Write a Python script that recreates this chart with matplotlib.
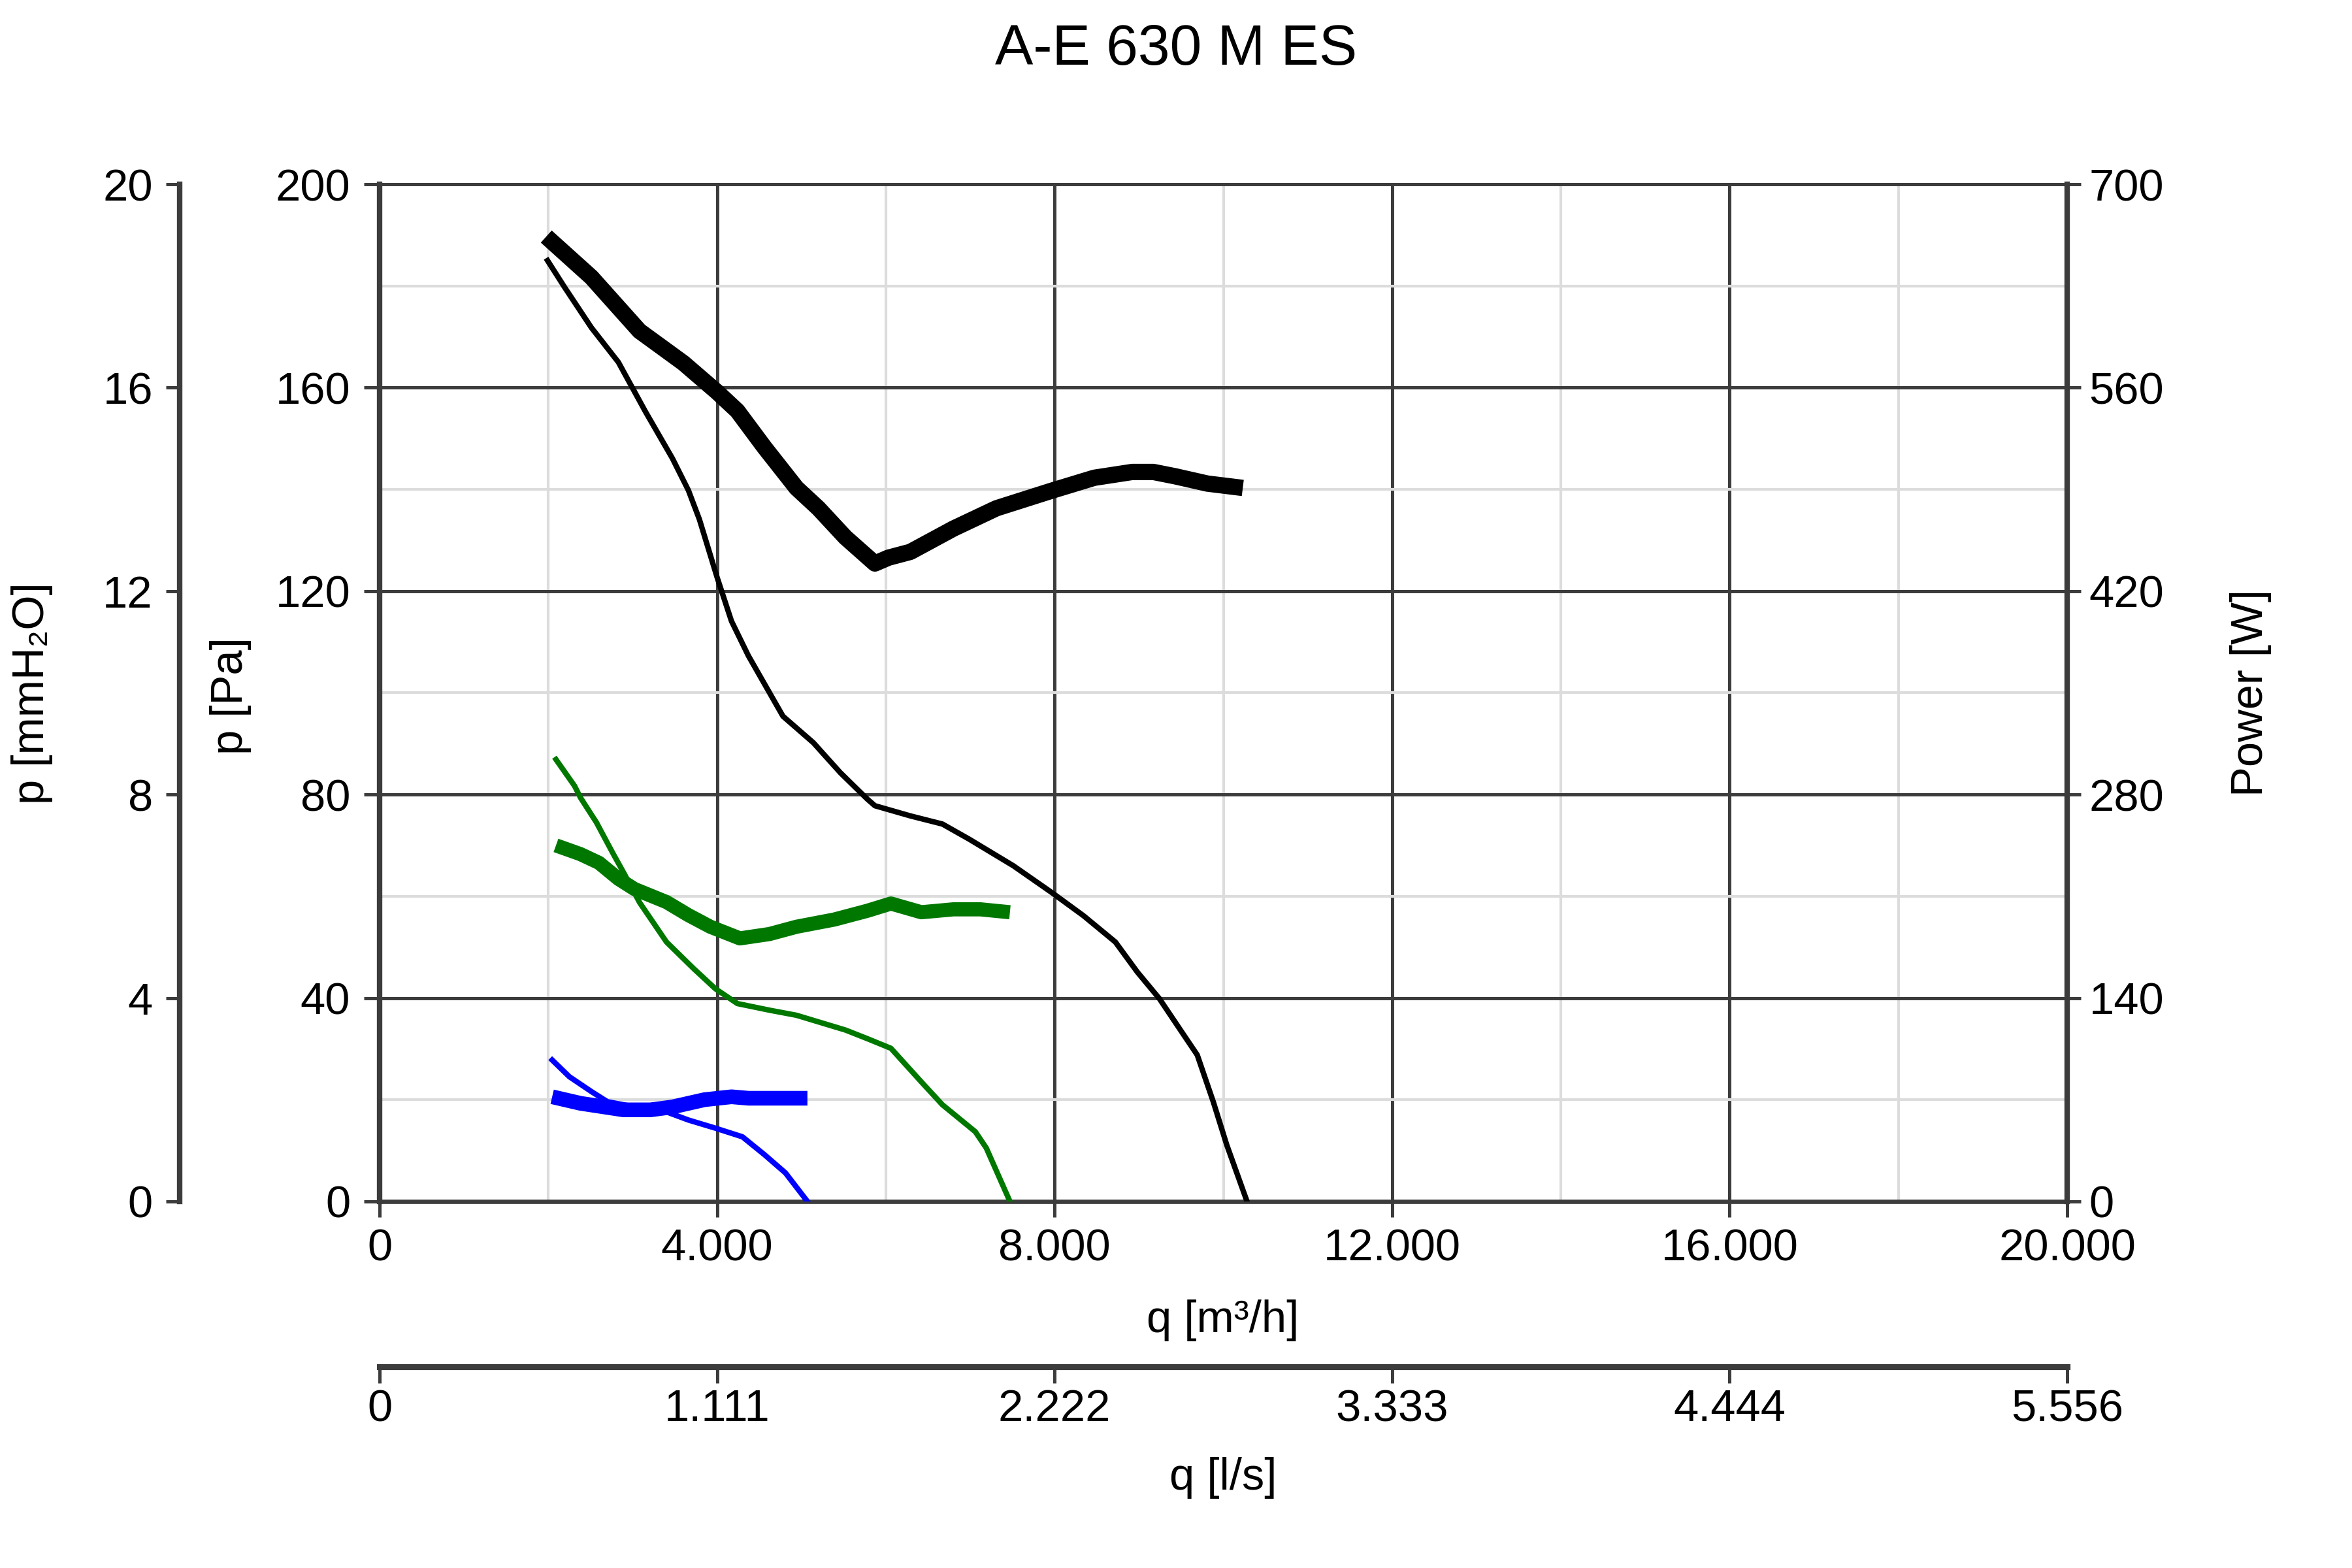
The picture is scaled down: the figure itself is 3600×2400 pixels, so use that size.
import matplotlib.pyplot as plt
from matplotlib.ticker import FuncFormatter, MultipleLocator

plt.rcParams['font.family'] = ['Liberation Sans', 'DejaVu Sans']

title = 'A-E 630 M ES'

# pressure curves, q [m3/h] -> p [Pa]
q_p_black = [1990, 2190, 2510, 2830, 3150, 3470, 3660, 3790, 4000, 4170, 4370,
             4780, 5140, 5460, 5780, 5870, 6290, 6670, 6990, 7310, 7510, 7960,
             8340, 8720, 8980, 9240, 9560, 9690, 9880, 10040, 10280]
p_black = [185.0, 179.8, 171.8, 165.0, 155.3, 146.1, 139.8, 134.1, 122.7, 114.1, 107.3,
           95.4, 90.2, 84.3, 79.1, 77.8, 75.8, 74.2, 71.2, 68.0, 66.0, 60.8,
           56.2, 51.0, 45.1, 39.9, 32.0, 28.8, 19.6, 11.1, 0.0]

q_p_green = [2090, 2310, 2380, 2570, 2760, 2890, 3080, 3400, 3720, 3980, 4240,
             4620, 4940, 5200, 5520, 5780, 6060, 6420, 6670, 7060, 7190, 7470]
p_green = [86.9, 81.7, 79.4, 74.5, 68.6, 64.7, 58.8, 51.0, 45.8, 41.8, 38.9,
           37.6, 36.6, 35.3, 33.7, 32.0, 30.1, 23.5, 19.0, 13.7, 10.5, 0.0]

q_p_blue = [2045, 2250, 2510, 2700, 3020, 3400, 3660, 3980, 4300, 4560, 4810, 5070]
p_blue = [27.8, 24.5, 21.6, 19.6, 18.6, 17.6, 16.0, 14.4, 12.7, 9.2, 5.6, 0.0]

# power curves, q [m3/h] -> P [W]
q_w_black = [1975, 2510, 3080, 3600, 4000, 4240, 4560, 4940, 5200, 5520, 5870,
             6030, 6290, 6800, 7310, 7960, 8470, 8920, 9170, 9430, 9810, 10230]
w_black = [664, 636, 599, 577, 557, 544, 519, 491, 477, 457, 439,
           443, 447, 463, 477, 489, 498, 502, 502, 499, 494, 491]

q_w_green = [2090, 2380, 2600, 2830, 3020, 3400, 3660, 3920, 4270, 4620, 4940,
             5390, 5780, 6060, 6420, 6800, 7120, 7470]
w_green = [245, 239, 233, 222, 215, 206, 197, 189, 181, 184, 189,
           194, 200, 205, 199, 201, 201, 199]

q_w_blue = [2045, 2380, 2890, 3210, 3470, 3850, 4170, 4370, 5070]
w_blue = [72, 67.5, 63, 63, 65, 70, 72, 71, 71]

q_ticks = [0, 4000, 8000, 12000, 16000, 20000]
pa_ticks = [0, 40, 80, 120, 160, 200]
w_ticks = [0, 140, 280, 420, 560, 700]
mm_ticks = [0, 4, 8, 12, 16, 20]

dark = '#3c3c3c'
light = '#dcdcdc'
fs = 16.5


def thousands(v, pos):
    return f'{v:,.0f}'.replace(',', '.')


fig = plt.figure(figsize=(12, 8), dpi=300)
ax = fig.add_axes([0.1614, 0.2338, 0.7175, 0.6487])

ax.set_xlim(0, 20000)
ax.set_ylim(0, 200)
ax.set_xticks(q_ticks)
ax.set_yticks(pa_ticks)
ax.xaxis.set_minor_locator(MultipleLocator(2000))
ax.yaxis.set_minor_locator(MultipleLocator(20))
ax.xaxis.set_major_formatter(FuncFormatter(thousands))
ax.grid(which='minor', color=light, lw=1.0)
ax.grid(which='major', color=dark, lw=1.2)
ax.set_axisbelow(True)
ax.tick_params(which='minor', length=0)
ax.tick_params(which='major', labelsize=fs, color=dark, width=1.2, length=5.8, pad=5)
ax.tick_params(axis='x', pad=4)
for s in ax.spines.values():
    s.set_color(dark)
ax.spines['left'].set_linewidth(2.0)
ax.spines['bottom'].set_linewidth(1.6)
ax.spines['top'].set_linewidth(1.2)
ax.spines['right'].set_visible(False)

# pressure curves
ax.plot(q_p_black, p_black, color='black', lw=2.0, zorder=5)
ax.plot(q_p_green, p_green, color='#007800', lw=2.0, zorder=5)
ax.plot(q_p_blue, p_blue, color='#0000ff', lw=2.0, zorder=5)

# power axis on the right
axw = ax.twinx()
axw.set_ylim(0, 700)
axw.set_yticks(w_ticks)
axw.tick_params(labelsize=fs, color=dark, width=1.2, length=5, pad=3)
for s in axw.spines.values():
    s.set_visible(False)
axw.spines['right'].set_visible(True)
axw.spines['right'].set_color(dark)
axw.spines['right'].set_linewidth(2.0)
axw.plot(q_w_black, w_black, color='black', lw=6.0, solid_capstyle='butt')
axw.plot(q_w_green, w_green, color='#007800', lw=5.2, solid_capstyle='butt')
axw.plot(q_w_blue, w_blue, color='#0000ff', lw=5.4, solid_capstyle='butt')

# mmH2O axis on the far left
axm = ax.twinx()
axm.set_ylim(0, 20)
axm.set_yticks(mm_ticks)
axm.yaxis.tick_left()
for s in axm.spines.values():
    s.set_visible(False)
axm.spines['left'].set_visible(True)
axm.spines['left'].set_position(('axes', -0.1183))
axm.spines['left'].set_color(dark)
axm.spines['left'].set_linewidth(2.0)
axm.tick_params(labelsize=fs, color=dark, width=1.2, length=5, pad=5)

# l/s axis below
axl = ax.twiny()
axl.set_xlim(0, 20000 / 3.6)
axl.set_xticks([v / 3.6 for v in q_ticks])
axl.xaxis.set_major_formatter(FuncFormatter(thousands))
axl.xaxis.tick_bottom()
for s in axl.spines.values():
    s.set_visible(False)
axl.spines['bottom'].set_visible(True)
axl.spines['bottom'].set_position(('axes', -0.1625))
axl.spines['bottom'].set_color(dark)
axl.spines['bottom'].set_linewidth(2.2)
axl.tick_params(labelsize=fs, color=dark, width=1.2, length=6, pad=2)

fig.text(0.5, 0.968, title, ha='center', va='center', fontsize=21)
fig.text(0.0135, 0.558, 'p [mmH₂O]', rotation=90, ha='center', va='center', fontsize=fs)
fig.text(0.098, 0.556, 'p [Pa]', rotation=90, ha='center', va='center', fontsize=fs)
fig.text(0.957, 0.558, 'Power [W]', rotation=90, ha='center', va='center', fontsize=fs)
fig.text(0.52, 0.158, 'q [m³/h]', ha='center', va='center', fontsize=fs)
fig.text(0.52, 0.0574, 'q [l/s]', ha='center', va='center', fontsize=fs)

fig.savefig('out.png', dpi=300)
